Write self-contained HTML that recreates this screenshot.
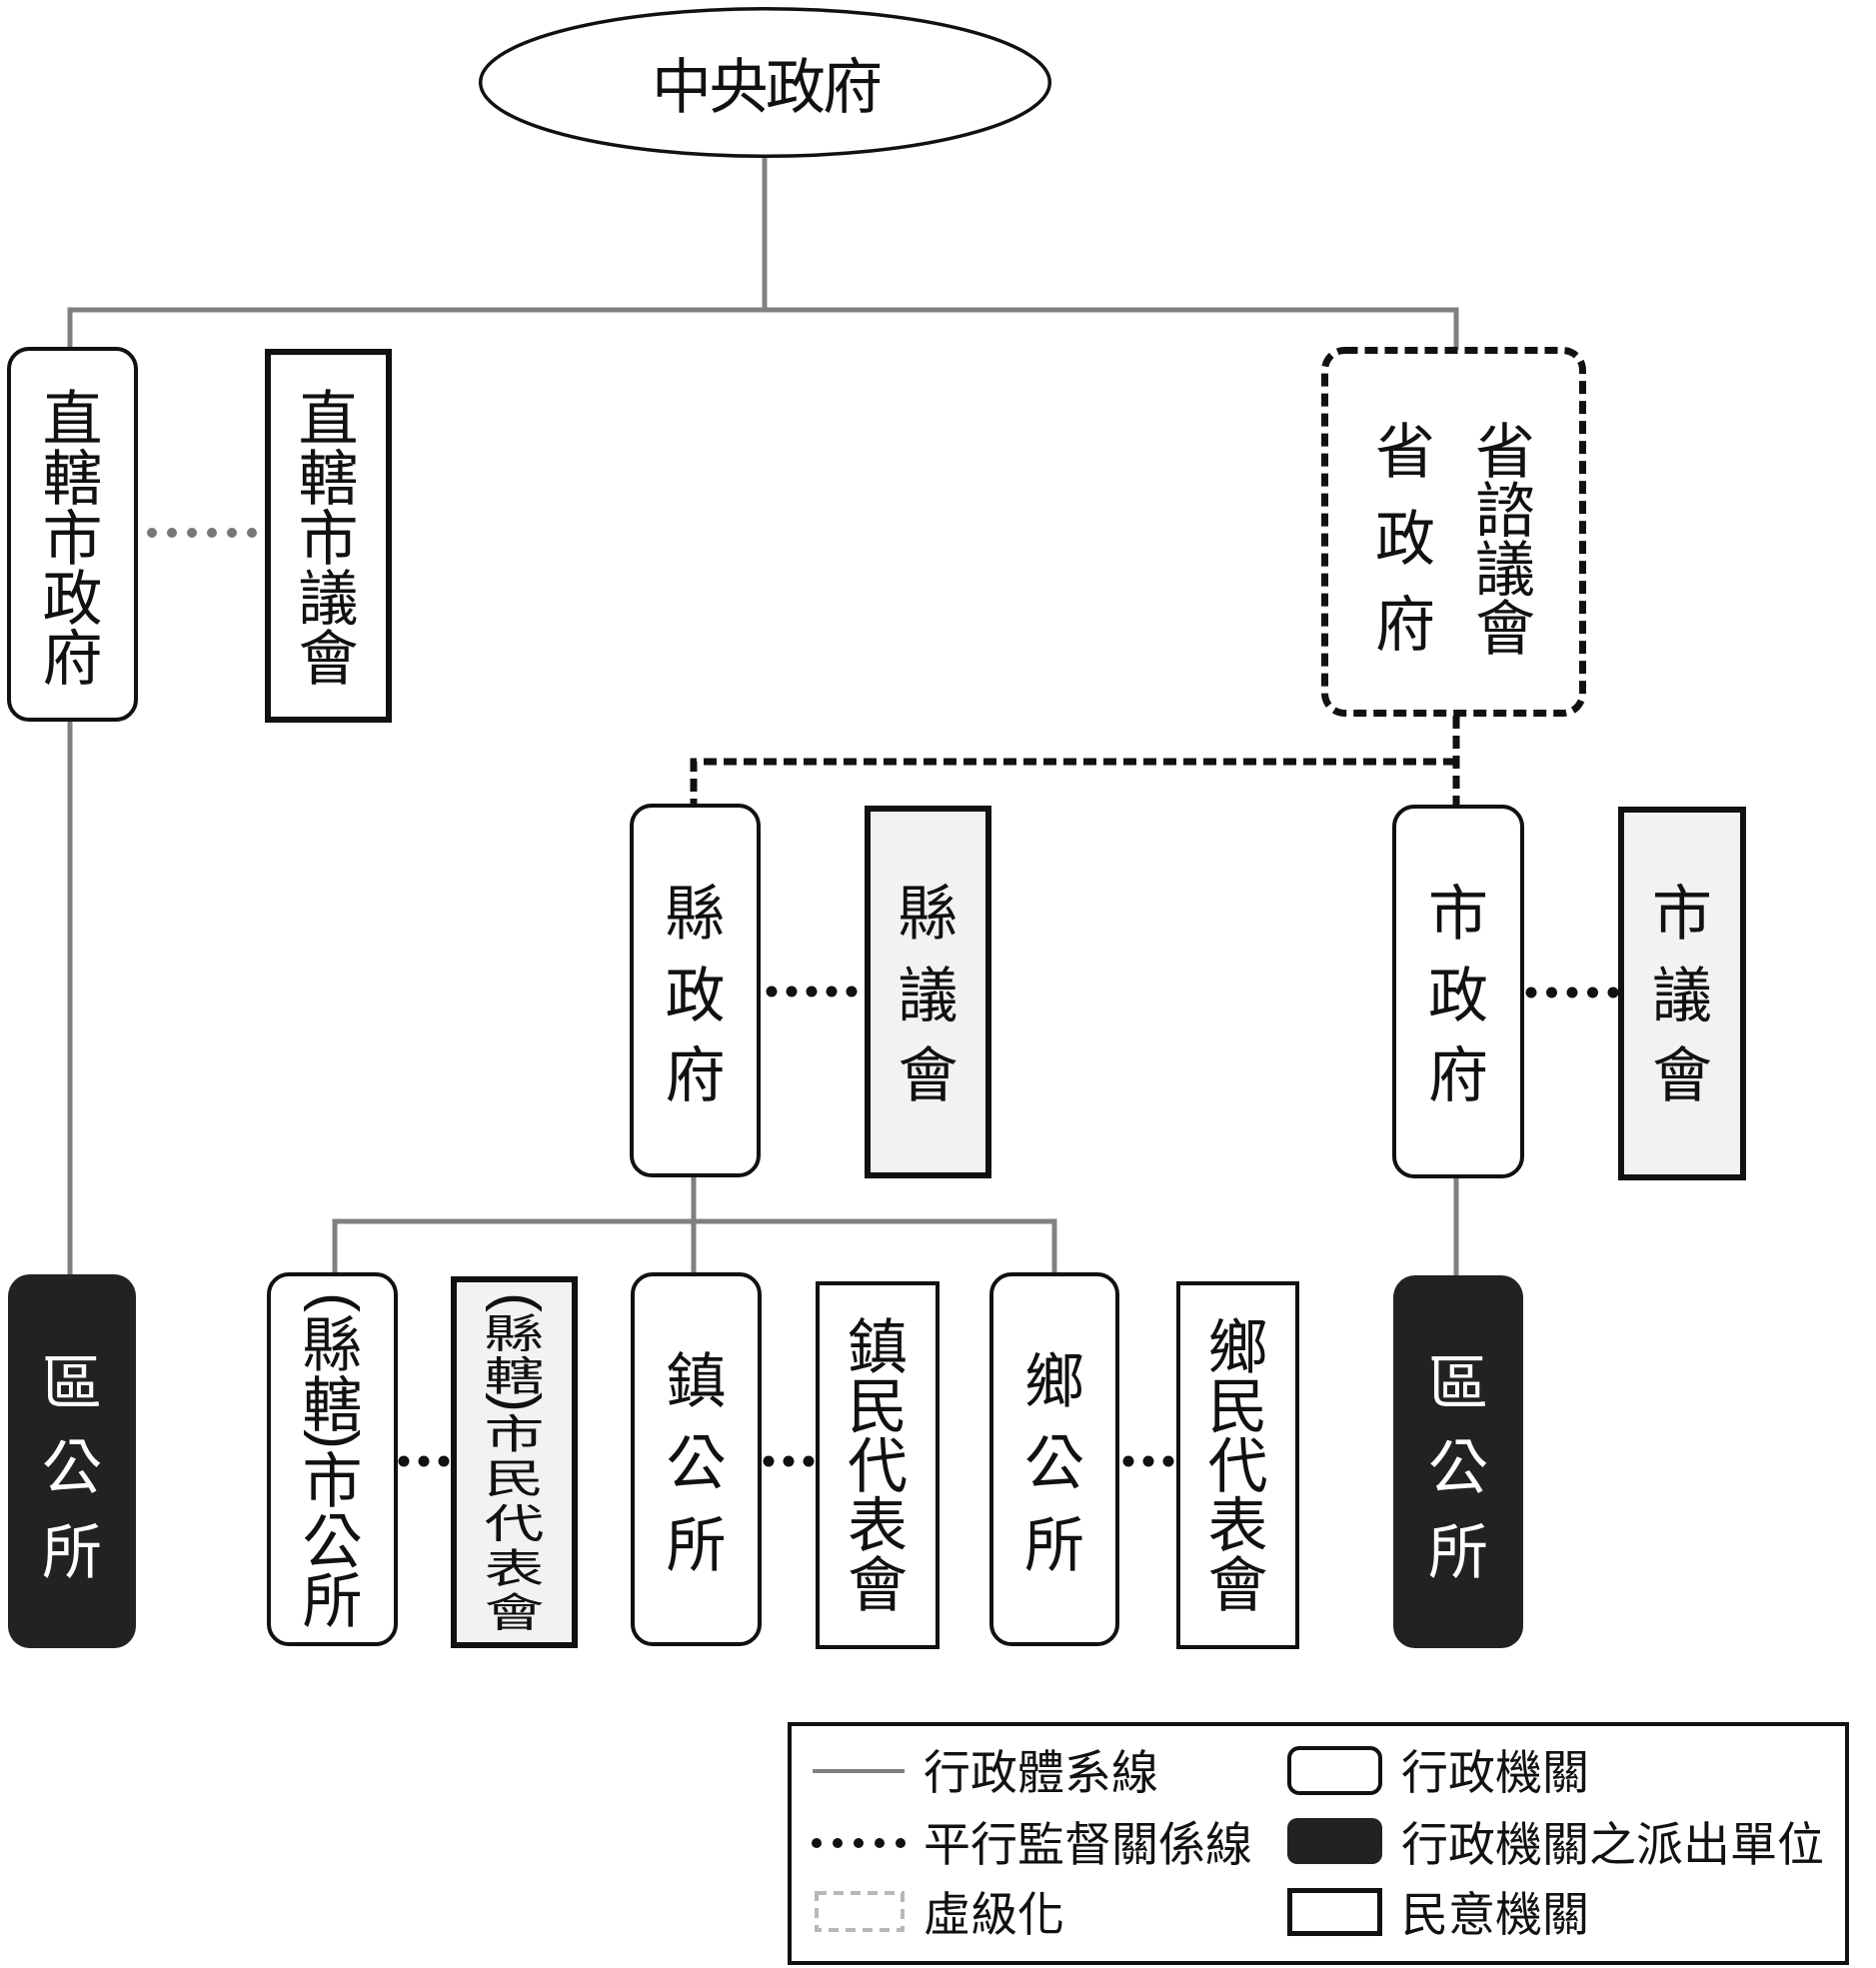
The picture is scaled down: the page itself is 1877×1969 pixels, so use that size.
<!DOCTYPE html>
<html>
<head>
<meta charset="utf-8">
<style>
  html,body{margin:0;padding:0;background:#fff;}
  body{width:1877px;height:1969px;overflow:hidden;}
  svg{display:block;}
  text{font-family:"Liberation Sans","Noto Sans CJK TC","Noto Sans CJK SC",sans-serif;fill:#111;}
  .c{font-size:60px;text-anchor:middle;}
  .w{fill:#fff;}
  .lg{font-size:47px;}
  .p{font-size:60px;text-anchor:middle;}
</style>
</head>
<body>
<svg width="1877" height="1969" viewBox="0 0 1877 1969" xmlns="http://www.w3.org/2000/svg">
  <!-- gray admin lines -->
  <g stroke="#808080" stroke-width="5" fill="none">
    <line x1="765" y1="157" x2="765" y2="310"/>
    <line x1="67.5" y1="310" x2="1459.5" y2="310"/>
    <line x1="70" y1="310" x2="70" y2="348"/>
    <line x1="1457" y1="310" x2="1457" y2="350"/>
    <line x1="70" y1="721" x2="70" y2="1276"/>
    <line x1="694" y1="1177" x2="694" y2="1274"/>
    <line x1="332.5" y1="1222" x2="1057.5" y2="1222"/>
    <line x1="335" y1="1222" x2="335" y2="1274"/>
    <line x1="1055" y1="1222" x2="1055" y2="1274"/>
    <line x1="1457" y1="1178" x2="1457" y2="1277"/>
  </g>

  <!-- ellipse -->
  <ellipse cx="765.5" cy="82.5" rx="284.8" ry="73.8" fill="#fff" stroke="#111" stroke-width="3.5"/>
  <text x="766" y="108" class="c" letter-spacing="-3">中央政府</text>

  <!-- dashed (virtual) connectors -->
  <g stroke="#111" stroke-width="7" fill="none" stroke-dasharray="13 7">
    <path d="M1457 716 V806"/>
    <path d="M1457 762 H694 V805"/>
  </g>
  <rect x="1325.5" y="350.5" width="258" height="363" rx="20" ry="20" fill="#fff" stroke="#111" stroke-width="7" stroke-dasharray="13 7"/>

  <!-- rounded white admin boxes -->
  <g fill="#fff" stroke="#111" stroke-width="4">
    <rect x="9" y="349" width="127" height="371" rx="20"/>
    <rect x="632" y="806" width="127" height="370" rx="20"/>
    <rect x="1395" y="807" width="128" height="370" rx="20"/>
    <rect x="269" y="1275" width="127" height="370" rx="20"/>
    <rect x="633" y="1275" width="127" height="370" rx="20"/>
    <rect x="992" y="1275" width="126" height="370" rx="20"/>
  </g>

  <!-- black dispatched boxes -->
  <rect x="8" y="1275" width="128" height="374" rx="22" fill="#222"/>
  <rect x="1394" y="1276" width="130" height="373" rx="22" fill="#222"/>

  <!-- thick square council boxes -->
  <g stroke="#111" stroke-width="6">
    <rect x="268" y="352" width="121" height="368" fill="#fff"/>
    <rect x="868" y="809" width="121" height="367" fill="#f2f2f2"/>
    <rect x="1622" y="810" width="122" height="368" fill="#f2f2f2"/>
    <rect x="454" y="1280" width="121" height="366" fill="#f2f2f2"/>
  </g>
  <!-- thin square council boxes -->
  <g stroke="#111" stroke-width="4" fill="#fff">
    <rect x="818" y="1284" width="120" height="364"/>
    <rect x="1179" y="1284" width="119" height="364"/>
  </g>

  <!-- dotted supervisory lines -->
  <g fill="#777">
    <circle cx="152" cy="533" r="5"/><circle cx="172" cy="533" r="5"/><circle cx="192" cy="533" r="5"/>
    <circle cx="212" cy="533" r="5"/><circle cx="232" cy="533" r="5"/><circle cx="252" cy="533" r="5"/>
  </g>
  <g fill="#111">
    <circle cx="772" cy="992" r="5.5"/><circle cx="792" cy="992" r="5.5"/><circle cx="812" cy="992" r="5.5"/><circle cx="832" cy="992" r="5.5"/><circle cx="852" cy="992" r="5.5"/>
    <circle cx="1532" cy="993" r="5.5"/><circle cx="1552.5" cy="993" r="5.5"/><circle cx="1573" cy="993" r="5.5"/><circle cx="1593.5" cy="993" r="5.5"/><circle cx="1614" cy="993" r="5.5"/>
    <circle cx="404" cy="1462" r="5.5"/><circle cx="424" cy="1462" r="5.5"/><circle cx="444" cy="1462" r="5.5"/>
    <circle cx="769" cy="1462" r="5.5"/><circle cx="789" cy="1462" r="5.5"/><circle cx="809" cy="1462" r="5.5"/>
    <circle cx="1129" cy="1462" r="5.5"/><circle cx="1149" cy="1462" r="5.5"/><circle cx="1169" cy="1462" r="5.5"/>
  </g>

  <!-- 直轄市政府 -->
  <text x="72.5" y="440" class="c">直</text>
  <text x="72.5" y="500" class="c">轄</text>
  <text x="72.5" y="560" class="c">市</text>
  <text x="72.5" y="620" class="c">政</text>
  <text x="72.5" y="680" class="c">府</text>
  <!-- 直轄市議會 -->
  <text x="328.5" y="440" class="c">直</text>
  <text x="328.5" y="500" class="c">轄</text>
  <text x="328.5" y="560" class="c">市</text>
  <text x="328.5" y="620" class="c">議</text>
  <text x="328.5" y="680" class="c">會</text>

  <!-- 省政府 / 省諮議會 -->
  <text x="1406" y="473" class="c">省</text>
  <text x="1406" y="560" class="c">政</text>
  <text x="1406" y="646" class="c">府</text>
  <text x="1506" y="473" class="c">省</text>
  <text x="1506" y="532" class="c">諮</text>
  <text x="1506" y="591" class="c">議</text>
  <text x="1506" y="650" class="c">會</text>

  <!-- 縣政府 / 縣議會 -->
  <text x="695.5" y="935" class="c">縣</text>
  <text x="695.5" y="1017" class="c">政</text>
  <text x="695.5" y="1097" class="c">府</text>
  <text x="928.5" y="935" class="c">縣</text>
  <text x="928.5" y="1017" class="c">議</text>
  <text x="928.5" y="1097" class="c">會</text>

  <!-- 市政府 / 市議會 -->
  <text x="1459" y="935" class="c">市</text>
  <text x="1459" y="1017" class="c">政</text>
  <text x="1459" y="1097" class="c">府</text>
  <text x="1683" y="935" class="c">市</text>
  <text x="1683" y="1017" class="c">議</text>
  <text x="1683" y="1097" class="c">會</text>

  <!-- 區公所 left (white) -->
  <text x="72" y="1405" class="c w">區</text>
  <text x="72" y="1489.5" class="c w">公</text>
  <text x="72" y="1574" class="c w">所</text>

  <!-- (縣轄)市公所 -->
  <text class="p" transform="translate(332.5,1303) rotate(90)" y="16">(</text>
  <text x="332.5" y="1367" class="c">縣</text>
  <text x="332.5" y="1427" class="c">轄</text>
  <text class="p" transform="translate(332.5,1440) rotate(90)" y="16">)</text>
  <text x="332.5" y="1503" class="c">市</text>
  <text x="332.5" y="1564" class="c">公</text>
  <text x="332.5" y="1623" class="c">所</text>

  <!-- (縣轄)市民代表會 compressed -->
  <text class="p" transform="translate(514.5,1303) rotate(90)" y="16">(</text>
  <text class="c" transform="translate(514.5,1333) scale(1,0.67)" y="23">縣</text>
  <text class="c" transform="translate(514.5,1375.5) scale(1,0.67)" y="23">轄</text>
  <text class="p" transform="translate(514.5,1403) rotate(90)" y="16">)</text>
  <text class="c" transform="translate(514.5,1433.5) scale(1,0.67)" y="23">市</text>
  <text class="c" transform="translate(514.5,1478) scale(1,0.67)" y="23">民</text>
  <text class="c" transform="translate(514.5,1523) scale(1,0.67)" y="23">代</text>
  <text class="c" transform="translate(514.5,1568) scale(1,0.67)" y="23">表</text>
  <text class="c" transform="translate(514.5,1612) scale(1,0.67)" y="23">會</text>

  <!-- 鎮公所 -->
  <text x="696.5" y="1403" class="c">鎮</text>
  <text x="696.5" y="1485" class="c">公</text>
  <text x="696.5" y="1567" class="c">所</text>
  <!-- 鎮民代表會 -->
  <text x="878" y="1369" class="c">鎮</text>
  <text x="878" y="1428.5" class="c">民</text>
  <text x="878" y="1488" class="c">代</text>
  <text x="878" y="1547.5" class="c">表</text>
  <text x="878" y="1607" class="c">會</text>

  <!-- 鄉公所 -->
  <text x="1055" y="1403" class="c">鄉</text>
  <text x="1055" y="1485" class="c">公</text>
  <text x="1055" y="1567" class="c">所</text>
  <!-- 鄉民代表會 -->
  <text x="1238.5" y="1369" class="c">鄉</text>
  <text x="1238.5" y="1428.5" class="c">民</text>
  <text x="1238.5" y="1488" class="c">代</text>
  <text x="1238.5" y="1547.5" class="c">表</text>
  <text x="1238.5" y="1607" class="c">會</text>

  <!-- 區公所 right (white) -->
  <text x="1459" y="1405" class="c w">區</text>
  <text x="1459" y="1489.5" class="c w">公</text>
  <text x="1459" y="1574" class="c w">所</text>

  <!-- Legend -->
  <rect x="790" y="1725" width="1058" height="239" fill="#fff" stroke="#111" stroke-width="4"/>
  <line x1="813" y1="1772" x2="905" y2="1772" stroke="#808080" stroke-width="4"/>
  <g fill="#111">
    <circle cx="817" cy="1844" r="5"/><circle cx="838" cy="1844" r="5"/><circle cx="859" cy="1844" r="5"/><circle cx="880" cy="1844" r="5"/><circle cx="901" cy="1844" r="5"/>
  </g>
  <rect x="817" y="1894" width="86" height="37" fill="none" stroke="#b8b8b8" stroke-width="4" stroke-dasharray="10 7"/>
  <text x="924" y="1790" class="lg">行政體系線</text>
  <text x="924" y="1862" class="lg">平行監督關係線</text>
  <text x="924" y="1932" class="lg">虛級化</text>

  <rect x="1290" y="1749" width="91" height="45" rx="10" fill="#fff" stroke="#111" stroke-width="4"/>
  <rect x="1288" y="1819" width="95" height="46" rx="10" fill="#222"/>
  <rect x="1290.5" y="1891.5" width="90" height="43" fill="#fff" stroke="#111" stroke-width="5"/>
  <text x="1402" y="1790" class="lg">行政機關</text>
  <text x="1402" y="1862" class="lg">行政機關之派出單位</text>
  <text x="1402" y="1932" class="lg">民意機關</text>
</svg>
</body>
</html>
